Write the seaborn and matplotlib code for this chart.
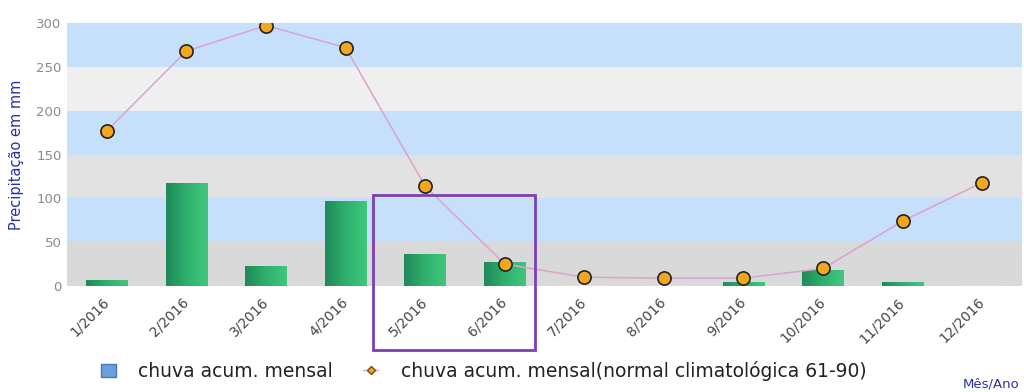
import numpy as np
import pandas as pd
import matplotlib
matplotlib.use("Agg")
import matplotlib.pyplot as plt
from matplotlib.patches import Patch, Rectangle
from matplotlib.lines import Line2D
import seaborn as sns

# Monthly accumulated rainfall (mm) and the 1961-90 climatological normal
meses = ["1/2016", "2/2016", "3/2016", "4/2016", "5/2016", "6/2016",
         "7/2016", "8/2016", "9/2016", "10/2016", "11/2016", "12/2016"]
chuva_mensal = [7, 118, 23, 97, 37, 27, 0, 0, 4, 18, 5, 0]
normal_6190 = [177, 268, 297, 272, 114, 25, 10, 9, 9, 20, 74, 118]
y_ticks = [0, 50, 100, 150, 200, 250, 300]

df = pd.DataFrame({"mes": meses, "chuva": chuva_mensal,
                   "normal": normal_6190, "pos": np.arange(len(meses))})

sns.set_theme(style="white")
plt.rcParams["font.family"] = ["DejaVu Sans"]

fig = plt.figure(figsize=(10.24, 3.92), dpi=100)
ax = fig.add_axes([67 / 1024, 1 - 286 / 392, 955 / 1024, 263 / 392])

sns.barplot(data=df, x="mes", y="chuva", order=meses, color="#2fae6c",
            width=0.52, ax=ax, zorder=2)
bars = list(ax.patches)

# Horizontal green gradient inside each bar
grad = np.linspace(0, 1, 64).reshape(1, -1)
cmap = matplotlib.colors.LinearSegmentedColormap.from_list(
    "g", ["#1f8a5a", "#2fb06d", "#3fc77d"])
for p in bars:
    x0, w, h = p.get_x(), p.get_width(), p.get_height()
    if h <= 0:
        continue
    im = ax.imshow(grad, cmap=cmap, aspect="auto", extent=(x0, x0 + w, 0, h),
                   zorder=2.5)
    im.set_clip_path(p)
    p.set_facecolor("none")
    p.set_edgecolor("none")

# Alternating horizontal bands behind the bars
band_cols = ["#d9d9d9", "#c6e0fb", "#e2e2e2", "#c6e0fb", "#efefef", "#c6e0fb"]
for i, c in enumerate(band_cols):
    ax.axhspan(y_ticks[i], y_ticks[i + 1], color=c, lw=0, zorder=0)

sns.lineplot(data=df, x="pos", y="normal", sort=False, color="#d9a3cc",
             linewidth=1.1, marker="o", markersize=9.5,
             markerfacecolor="#f2a71e", markeredgecolor="#222222",
             markeredgewidth=1.2, ax=ax, zorder=4)

ax.set_xlim(-0.5, len(meses) - 0.5)
ax.set_ylim(0, 300)
ax.set_yticks(y_ticks)
ax.set_yticklabels([str(v) for v in y_ticks], color="#8a8a8a", fontsize=9.5)
ax.set_xticks(np.arange(len(meses)))
ax.set_xticklabels(meses, rotation=45, ha="right", va="center",
                   rotation_mode="anchor", color="#444444", fontsize=10)
ax.tick_params(axis="x", length=0, pad=10)
ax.tick_params(axis="y", length=0, pad=4)
ax.set_xlabel("")
ax.set_ylabel("")
for s in ax.spines.values():
    s.set_visible(False)

fig.text(17 / 1024, 1 - 155 / 392, "Precipitação em mm", rotation=90,
         ha="center", va="center", color="#2b2fa8", fontsize=10.5)
fig.text(1020 / 1024, 1 - 384 / 392, "Mês/Ano", ha="right", va="center",
         color="#2b2fa8", fontsize=9.5)

# Highlight box around May-June
rect = Rectangle((3.34, -73), 2.04, 177, fill=False, edgecolor="#7b3fb8",
                 linewidth=2, clip_on=False, zorder=6)
ax.add_patch(rect)

handles = [
    Patch(facecolor="#6a9fd9", edgecolor="#4a78b0", label="chuva acum. mensal"),
    Line2D([0], [0], color="#d9a3cc", lw=1, marker="D", markersize=4,
           markerfacecolor="#f2a71e", markeredgecolor="#7a4a10",
           label="chuva acum. mensal(normal climatológica 61-90)"),
]
fig.legend(handles=handles, loc="center left", ncol=2, frameon=False,
           bbox_to_anchor=(84 / 1024, 1 - 371 / 392), fontsize=13.5,
           handlelength=0.8, handleheight=0.7, handletextpad=1.2,
           columnspacing=1.6, labelcolor="#222222")

fig.savefig("out.png", dpi=100)
